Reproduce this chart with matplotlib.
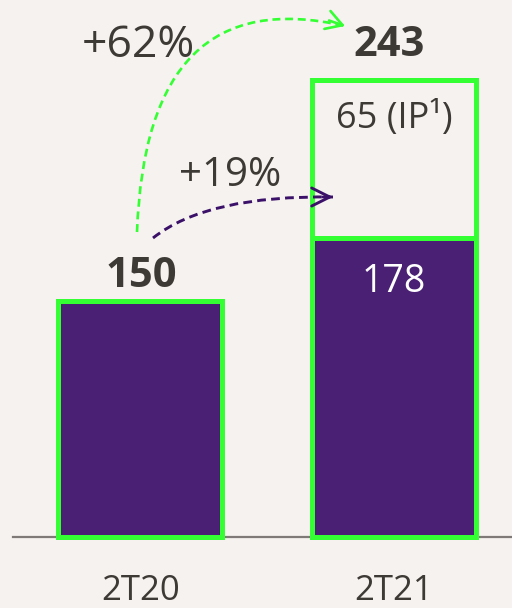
import matplotlib.pyplot as plt
from matplotlib.patches import FancyArrowPatch, PathPatch
from matplotlib.path import Path
import numpy as np

plt.rcParams['font.family'] = ['Open Sans', 'DejaVu Sans']

# data
periods = ['2T20', '2T21']
base = [150, 178]          # purple part
extra = [0, 65]            # IP part (2T21 only)
totals = [150, 243]
growth_total = '+62%'
growth_base = '+19%'

# colors
bg = '#f5f2ef'
purple = '#4a2075'
green = '#33ff33'
txt = '#3d3935'

# the original bars are not drawn to a linear scale, a power scale fits them
p = 1.3633
fwd = lambda v: np.power(np.clip(v, 0, None), p)
inv = lambda v: np.power(np.clip(v, 0, None), 1 / p)

fig = plt.figure(figsize=(5.12, 6.08), dpi=100, facecolor=bg)
H = 608
ax = fig.add_axes([0, 71 / H, 1, 537 / H])
ax.set_facecolor(bg)
ax.set_yscale('function', functions=(fwd, inv))
ax.set_ylim(0, 243 * (537 / 456.5) ** (1 / p))
ax.set_xlim(-0.555, 1.468)
ax.axis('off')

x = np.arange(len(periods))
w = 0.648
ax.axhline(0, xmin=13 / 512, xmax=1, color='#7f7a77', lw=1.6, zorder=1, clip_on=False)
ax.bar(x, base, width=w, color=purple, edgecolor=green, linewidth=3.6, zorder=2, clip_on=False)
ax.bar(x[1], extra[1], bottom=base[1], width=w, color=bg, edgecolor=green,
       linewidth=3.6, zorder=2, clip_on=False)

# labels
ax.annotate(str(totals[0]), (x[0], totals[0]), xytext=(1, 13.5), textcoords='offset pixels',
            ha='center', va='baseline', fontsize=30, fontweight='bold', color=txt)
ax.annotate(str(totals[1]), (x[1], totals[1]), xytext=(-4, 24.5), textcoords='offset pixels',
            ha='center', va='baseline', fontsize=30, fontweight='bold', color=txt)
ax.annotate(str(base[1]), (x[1], base[1]), xytext=(0, -53.5), textcoords='offset pixels',
            ha='center', va='baseline', fontsize=27, color='white')
ax.annotate('%d (IP¹)' % extra[1], (x[1], totals[1]), xytext=(1, -47.5), textcoords='offset pixels',
            ha='center', va='baseline', fontsize=26, color=txt)
for i, lab in enumerate(periods):
    ax.annotate(lab, (x[i], 0), xytext=(0, -63), textcoords='offset pixels',
                ha='center', va='baseline', fontsize=25, color=txt, annotation_clip=False)

# growth arrows (image pixel coords -> figure pixels)
def px(a, b):
    return (a, H - b)

def curved(start, ctrl, end, color, lw, head_from, hl, hw):
    path = Path([px(*start), px(*ctrl), px(*end)], [Path.MOVETO, Path.CURVE3, Path.CURVE3])
    fig.add_artist(PathPatch(path, transform=None, fill=False, edgecolor=color, lw=lw,
                             linestyle=(0, (3, 1.8))))
    fig.add_artist(FancyArrowPatch(
        px(*head_from), px(*end), transform=None,
        arrowstyle='->,head_length=%s,head_width=%s' % (hl, hw), mutation_scale=10,
        color=color, lw=lw, shrinkA=0, shrinkB=0))

curved((137, 232), (146, -20), (345, 26), green, 1.9, (329, 20.5), 1.15, 0.68)
curved((153, 238), (207, 195), (333, 197), '#3a1068', 2.1, (323, 197), 1.3, 0.65)

fig.text(138 / 512, 1 - 57 / H, growth_total, ha='center', va='baseline', fontsize=32, color=txt)
fig.text(230 / 512, 1 - 186 / H, growth_base, ha='center', va='baseline', fontsize=29, color=txt)

plt.savefig('out.png', dpi=100, facecolor=bg)
